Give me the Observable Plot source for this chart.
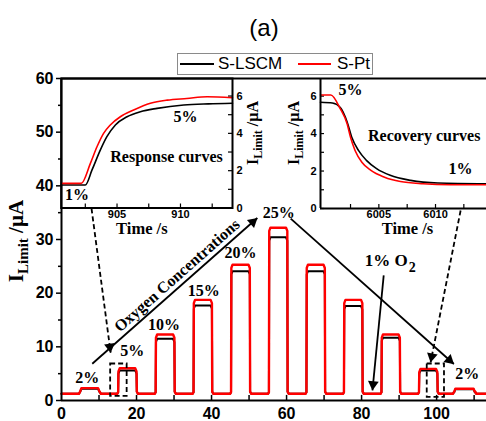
<!DOCTYPE html>
<html>
<head>
<meta charset="utf-8">
<script src="https://cdn.jsdelivr.net/npm/d3@7"></script>
<script src="https://cdn.jsdelivr.net/npm/@observablehq/plot@0.6"></script>
<style>
html,body{margin:0;padding:0;background:#fff;}
#wrap{position:relative;width:486px;height:421px;overflow:hidden;background:#fff;}
#wrap svg{position:absolute;}
.title{position:absolute;left:214px;width:100px;top:14px;line-height:28px;text-align:center;font:24px Arial,'Liberation Sans',sans-serif;color:#000;}
.legend{position:absolute;left:177px;top:53px;width:194px;height:20px;border:1px solid #8a8a8a;background:#fff;font:17px Arial,'Liberation Sans',sans-serif;line-height:20px;color:#000;}
.legend .sw{position:absolute;top:9px;height:2px;}
.legend .lb{position:absolute;top:0;white-space:nowrap;}
</style>
</head>
<body>
<div id="wrap"></div>
<script>
const SERIF = "'Times New Roman','Liberation Serif',serif";
const SANS = "Arial,'Liberation Sans',sans-serif";

// ---------- data: main chart ----------
const seriesNames = ["S-LSCM", "S-Pt"];
const seriesColors = ["#000000", "#ff0000"];
const pulseStart = [4.9, 15.1, 25.1, 35.2, 45.2, 55.3, 65.3, 75.3, 85.3, 95.3, 104.6];
const pulseEnd   = [10.1, 20.0, 30.1, 40.1, 50.2, 60.2, 70.2, 80.2, 90.2, 100.2, 110.2];
const lscmLevel  = [2.2, 5.6, 11.5, 17.7, 24.1, 30.4, 24.1, 17.6, 11.7, 5.6, 2.1];
const ptLevel    = [2.3, 6.0, 12.3, 18.75, 25.3, 32.2, 25.3, 18.75, 12.3, 5.9, 2.2];
const baseLevel = 1.25;
const xTicks = [0, 20, 40, 60, 80, 100];
const xMinor = [10, 20, 30, 40, 50, 60, 70, 80, 90, 100, 110];
const yTicks = [0, 10, 20, 30, 40, 50, 60];
const yMinor = [5, 15, 25, 35, 45, 55];

const concLabels = [
  {x: 6.85, y: 4.3, text: "2%"},
  {x: 18.85, y: 9.2, text: "5%"},
  {x: 27.3, y: 14.0, text: "10%"},
  {x: 37.9, y: 20.5, text: "15%"},
  {x: 47.7, y: 27.6, text: "20%"},
  {x: 57.9, y: 35.0, text: "25%"},
  {x: 108.2, y: 5.0, text: "2%"}
];
const solidArrows = [
  {x1: 8.2, y1: 6.85, x2: 52.2, y2: 34.0},
  {x1: 61.1, y1: 33.9, x2: 104.6, y2: 6.8},
  {x1: 85.9, y1: 23.3, x2: 82.9, y2: 1.9}
];
const dashedArrows = [
  {x1: 8.0, y1: 35.8, x2: 13.1, y2: 8.9},
  {x1: 106.4, y1: 35.4, x2: 98.4, y2: 7.1}
];
const dashedBoxes = [
  {x1: 13.1, x2: 17.5, y1: 0.75, y2: 6.8},
  {x1: 97.5, x2: 102.1, y1: 0.6, y2: 6.8}
];
const oxyLabel = [{x: 30.8, y: 23.3, text: "Oxygen Concentrations"}];
const o2Label = [{x: 92.3, y: 26.1, main: "1% O", sub: "2"}];

// ---------- data: response inset ----------
const respXTicks = [905, 910];
const respLscmT = [900.6, 902.5, 903.03, 903.68, 904.2, 904.87, 905.79, 906.84, 908.16, 910.26, 912.2, 914.1];
const respLscmV = [1.23, 1.23, 2.04, 3.1, 3.82, 4.45, 4.89, 5.16, 5.34, 5.52, 5.58, 5.61];
const respPtT = [900.6, 902.18, 902.9, 903.42, 903.94, 904.47, 905.26, 906.31, 907.63, 908.95, 910.5, 912.1, 914.1];
const respPtV = [1.32, 1.32, 2.39, 3.28, 4.0, 4.45, 4.89, 5.25, 5.61, 5.78, 5.87, 5.96, 5.91];
const respLabels = [
  {x: 901.84, y: 0.7, text: "1%"},
  {x: 910.4, y: 4.87, text: "5%"},
  {x: 908.9, y: 2.73, text: "Response curves"}
];

// ---------- data: recovery inset ----------
const recXTicks = [6005, 6010];
const recLscmT = [5999.85, 6000.9, 6001.6, 6002.2, 6002.6, 6003.2, 6003.9, 6004.8, 6006.0, 6007.8, 6010.2, 6014.5];
const recLscmV = [5.67, 5.63, 5.39, 4.62, 3.82, 3.1, 2.57, 2.13, 1.77, 1.5, 1.36, 1.32];
const recPtT = [5999.85, 6000.76, 6001.6, 6002.2, 6002.5, 6002.9, 6003.5, 6004.3, 6005.5, 6006.9, 6008.9, 6011.3, 6014.5];
const recPtV = [6.06, 6.06, 5.32, 4.52, 3.8, 3.1, 2.47, 2.03, 1.67, 1.44, 1.32, 1.27, 1.27];
const recLabels = [
  {x: 6002.5, y: 6.32, text: "5%"},
  {x: 6009.0, y: 3.9, text: "Recovery curves"},
  {x: 6012.2, y: 2.13, text: "1%"}
];
const insetYTicks = [0, 2, 4, 6];

// ---------- helpers ----------
function pulseTrain(levels, xEnd) {
  const pts = [{x: 0, y: baseLevel}];
  levels.forEach((L, i) => {
    const s = pulseStart[i], e = pulseEnd[i];
    pts.push({x: s - 0.25, y: baseLevel}, {x: s, y: baseLevel + 0.3}, {x: s + 0.08, y: L - 0.6},
             {x: s + 0.4, y: L}, {x: e - 0.35, y: L}, {x: e, y: L - 0.6},
             {x: e + 0.08, y: baseLevel + 0.4}, {x: e + 0.4, y: baseLevel});
  });
  pts.push({x: xEnd, y: baseLevel});
  return pts;
}
const zip = (T, V) => T.map((t, i) => ({x: t, y: V[i]}));
function heads(arrs, sx, sy, back) {
  return arrs.map(a => {
    const px1 = sx(a.x1), py1 = sy(a.y1), px2 = sx(a.x2), py2 = sy(a.y2);
    const ang = Math.atan2(py2 - py1, px2 - px1);
    return {x: sx.invert(px2 - back * Math.cos(ang)), y: sy.invert(py2 - back * Math.sin(ang)),
            rotate: ang * 180 / Math.PI + 90};
  });
}
function rotLabel(svg, x, y, F, f, shift) {
  const t = d3.select(svg).append("text")
    .attr("transform", `translate(${x},${y}) rotate(-90)`)
    .attr("text-anchor", "middle").attr("font-family", SERIF)
    .attr("font-weight", "bold").attr("fill", "#000");
  t.append("tspan").attr("font-size", F).text("I");
  t.append("tspan").attr("font-size", f).attr("dy", shift).text("Limit");
  t.append("tspan").attr("font-size", F).attr("dy", -shift).text(" /\u00b5A");
}
const intFmt = d => String(d);
const baseStyle = {fontFamily: SANS, fontWeight: "bold", background: "transparent", overflow: "visible", color: "#000"};
const wrap = document.getElementById("wrap");

// ---------- main plot ----------
const W = 486, H = 421, mL = 61, mR = 0, mT = 78, mB = 21, xMax = 113.3;
const sx = d3.scaleLinear([0, xMax], [mL, W - mR]);
const sy = d3.scaleLinear([0, 60], [H - mB, mT]);
const allArrows = solidArrows.concat(dashedArrows);

const main = Plot.plot({
  width: W, height: H, marginLeft: mL, marginRight: mR, marginTop: mT, marginBottom: mB,
  x: {domain: [0, xMax]}, y: {domain: [0, 60]},
  style: baseStyle,
  marks: [
    Plot.axisY({ticks: yTicks, tickSize: 5, tickPadding: 3, fontSize: 16, fontWeight: "bold", label: null, strokeWidth: 1.5, tickFormat: intFmt}),
    Plot.axisY({ticks: yMinor, tickSize: 3, tickFormat: () => "", label: null, strokeWidth: 1.5}),
    Plot.axisX({ticks: xTicks, tickSize: 0, tickPadding: 7, fontSize: 16, fontWeight: "bold", label: null, tickFormat: intFmt}),
    Plot.ruleX(xMinor, {y1: 0, y2: 0.95, strokeWidth: 1.5}),
    Plot.line(pulseTrain(lscmLevel, xMax), {x: "x", y: "y", stroke: seriesColors[0], strokeWidth: 2}),
    Plot.line(pulseTrain(ptLevel, xMax), {x: "x", y: "y", stroke: seriesColors[1], strokeWidth: 2.4}),
    Plot.rect(dashedBoxes, {x1: "x1", x2: "x2", y1: "y1", y2: "y2", fill: "none", stroke: "#000", strokeWidth: 1.8, strokeDasharray: "5,3"}),
    Plot.link(dashedArrows, {x1: "x1", y1: "y1", x2: "x2", y2: "y2", stroke: "#000", strokeWidth: 1.8, strokeDasharray: "5,3"}),
    Plot.link(solidArrows, {x1: "x1", y1: "y1", x2: "x2", y2: "y2", stroke: "#000", strokeWidth: 1.8}),
    Plot.dot(heads(allArrows, sx, sy, 6), {x: "x", y: "y", rotate: "rotate", symbol: "triangle", r: 4, fill: "#000", stroke: null}),
    Plot.text(concLabels, {x: "x", y: "y", text: "text", fontFamily: SERIF, fontSize: 16, fontWeight: "bold", fill: "#000"}),
    Plot.text(oxyLabel, {x: "x", y: "y", text: "text", rotate: -41.5, fontFamily: SERIF, fontSize: 16, fontWeight: "bold", fill: "#000"}),
    Plot.text(o2Label, {x: "x", y: "y", text: "main", textAnchor: "end", fontFamily: SERIF, fontSize: 17, fontWeight: "bold", fill: "#000"}),
    Plot.text(o2Label, {x: "x", y: "y", text: "sub", textAnchor: "start", dx: 1, dy: 7, fontFamily: SERIF, fontSize: 14, fontWeight: "bold", fill: "#000"}),
    Plot.ruleX([0], {strokeWidth: 2}),
    Plot.ruleY([0], {strokeWidth: 2}),
    Plot.ruleY([60], {strokeWidth: 2})
  ]
});
main.style.left = "0px"; main.style.top = "0px";
wrap.appendChild(main);
rotLabel(main, 23, 241, 21, 15, 5);

// ---------- response inset ----------
{
  const w = 250, h = 180, l = 20.7, r = 58, t = 8, b = 42.5;
  const dom = [900.6, 914.1], ydom = [0, 6.94];
  const pxX = (w - l - r) / (dom[1] - dom[0]);
  const pxY = (h - t - b) / (ydom[1] - ydom[0]);
  const yt = [0, 1, 2, 3, 4, 5, 6];
  const inset = Plot.plot({
    width: w, height: h, marginLeft: l, marginRight: r, marginTop: t, marginBottom: b,
    x: {domain: dom}, y: {domain: ydom}, style: baseStyle,
    marks: [
      Plot.axisY({anchor: "right", ticks: insetYTicks, tickSize: 0, tickPadding: 4, fontSize: 11, fontWeight: "bold", label: null, tickFormat: intFmt}),
      Plot.axisX({ticks: respXTicks, tickSize: 0, tickPadding: 2, fontSize: 11, fontWeight: "bold", label: null, tickFormat: intFmt}),
      Plot.ruleY(yt, {x1: dom[1] - 4 / pxX, x2: dom[1], strokeWidth: 1.2}),
      Plot.ruleX([902.5, 905, 907.5, 910, 912.5], {y1: 0, y2: 4 / pxY, strokeWidth: 1.2}),
      Plot.line(zip(respLscmT, respLscmV), {x: "x", y: "y", stroke: seriesColors[0], strokeWidth: 1.6, curve: "monotone-x"}),
      Plot.line(zip(respPtT, respPtV), {x: "x", y: "y", stroke: seriesColors[1], strokeWidth: 1.6, curve: "monotone-x"}),
      Plot.text(respLabels, {x: "x", y: "y", text: "text", fontFamily: SERIF, fontSize: 16, fontWeight: "bold", fill: "#000"}),
      Plot.text(["Time /s"], {frameAnchor: "bottom", dx: -5, dy: 26, fontFamily: SERIF, fontSize: 16.5, fontWeight: "bold", fill: "#000"}),
      Plot.frame({strokeWidth: 2})
    ]
  });
  inset.style.left = "40px"; inset.style.top = "70px";
  wrap.appendChild(inset);
  rotLabel(inset, 258 - 40, 133 - 70, 16, 12, 4);
}

// ---------- recovery inset ----------
{
  const w = 216, h = 180, l = 50, r = 0, t = 8, b = 42;
  const dom = [5999.85, 6014.5], ydom = [0, 6.94];
  const pxX = (w - l - r) / (dom[1] - dom[0]);
  const pxY = (h - t - b) / (ydom[1] - ydom[0]);
  const yt = [0, 1, 2, 3, 4, 5, 6];
  const inset = Plot.plot({
    width: w, height: h, marginLeft: l, marginRight: r, marginTop: t, marginBottom: b,
    x: {domain: dom}, y: {domain: ydom}, style: baseStyle,
    marks: [
      Plot.axisY({anchor: "left", ticks: insetYTicks, tickSize: 0, tickPadding: 4, fontSize: 11, fontWeight: "bold", label: null, tickFormat: intFmt}),
      Plot.axisX({ticks: recXTicks, tickSize: 0, tickPadding: 2, fontSize: 11, fontWeight: "bold", label: null, tickFormat: intFmt}),
      Plot.ruleY(yt, {x1: dom[0], x2: dom[0] + 4 / pxX, strokeWidth: 1.2}),
      Plot.ruleX([6002.5, 6005, 6007.5, 6010, 6012.5], {y1: 0, y2: 4 / pxY, strokeWidth: 1.2}),
      Plot.line(zip(recLscmT, recLscmV), {x: "x", y: "y", stroke: seriesColors[0], strokeWidth: 1.6, curve: "monotone-x"}),
      Plot.line(zip(recPtT, recPtV), {x: "x", y: "y", stroke: seriesColors[1], strokeWidth: 1.6, curve: "monotone-x"}),
      Plot.text(recLabels, {x: "x", y: "y", text: "text", fontFamily: SERIF, fontSize: 16, fontWeight: "bold", fill: "#000"}),
      Plot.text(["Time /s"], {frameAnchor: "bottom", dx: 4, dy: 25, fontFamily: SERIF, fontSize: 16.5, fontWeight: "bold", fill: "#000"}),
      Plot.ruleX([dom[0]], {strokeWidth: 2}),
      Plot.ruleY([0], {strokeWidth: 2})
    ]
  });
  inset.style.left = "270px"; inset.style.top = "70px";
  wrap.appendChild(inset);
  rotLabel(inset, 299 - 270, 133 - 70, 16, 12, 4);
}

// ---------- title & legend ----------
const title = document.createElement("div");
title.className = "title"; title.textContent = "(a)";
wrap.appendChild(title);
const lg = document.createElement("div");
lg.className = "legend";
lg.innerHTML =
  `<div class="sw" style="left:2px;width:34px;background:${seriesColors[0]}"></div>` +
  `<div class="lb" style="left:40px">${seriesNames[0]}</div>` +
  `<div class="sw" style="left:120px;width:33px;background:${seriesColors[1]}"></div>` +
  `<div class="lb" style="left:159px">${seriesNames[1]}</div>`;
wrap.appendChild(lg);
</script>
</body>
</html>
